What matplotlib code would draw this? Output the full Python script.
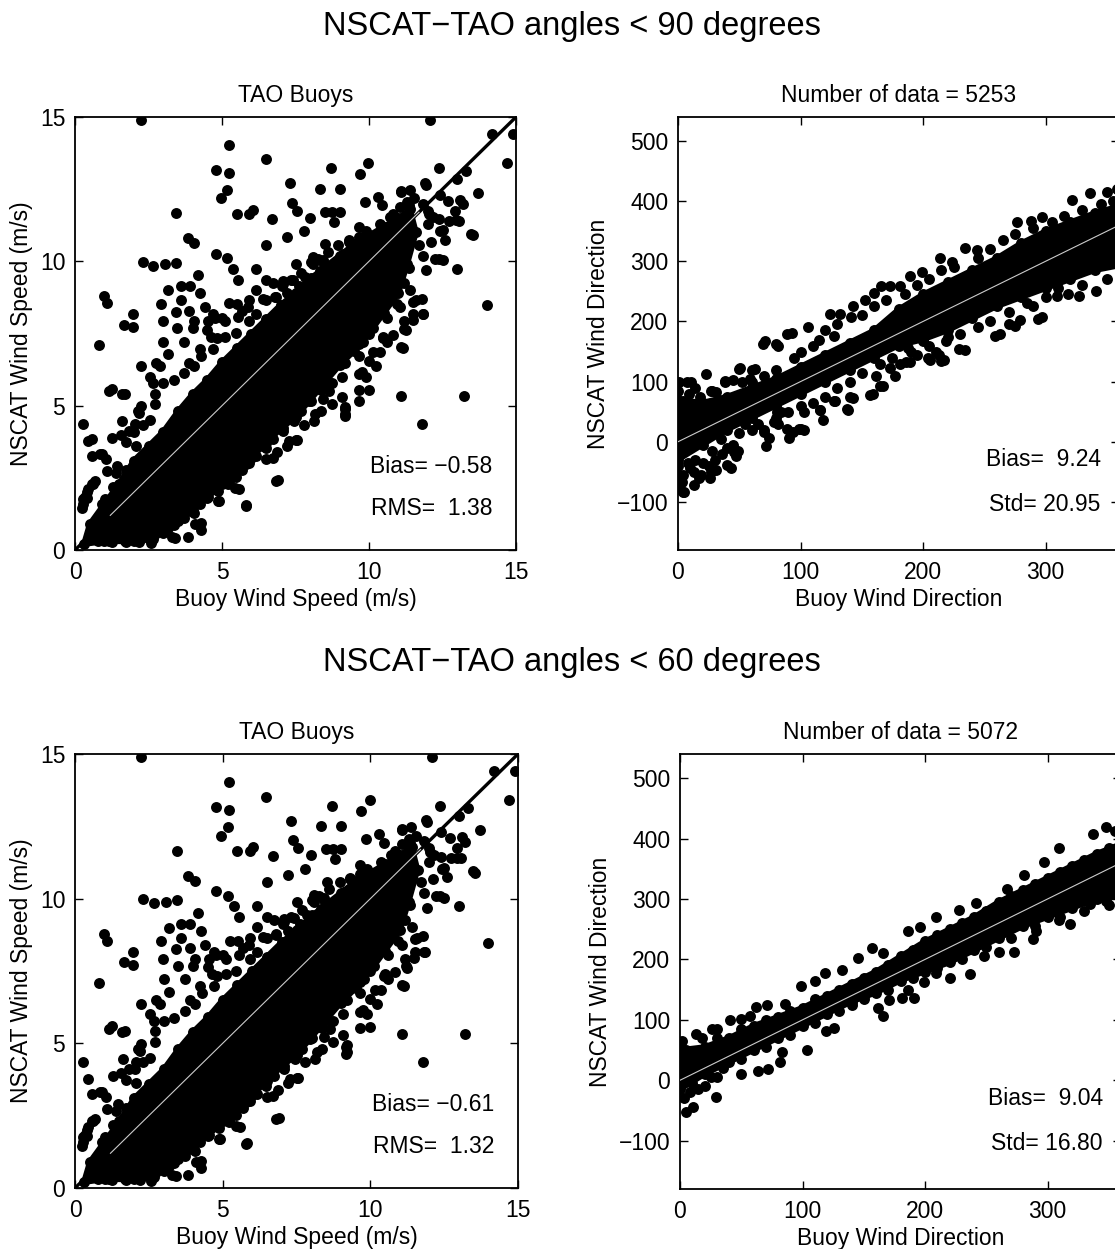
import numpy as np
import matplotlib
matplotlib.use('Agg')
import matplotlib.pyplot as plt

plt.rcParams['font.family'] = ['Liberation Sans', 'DejaVu Sans']
plt.rcParams['font.size'] = 16.5

# ---- data ----
suptitles = ['NSCAT\u2212TAO angles < 90 degrees', 'NSCAT\u2212TAO angles < 60 degrees']
n_data = [5253, 5072]
speed_bias = ['\u22120.58', '\u22120.61']
speed_rms = ['1.38', '1.32']
dir_bias = ['9.24', '9.04']
dir_std = ['20.95', '16.80']

# dense core of the speed scatter (outline, ordered), same in both angle sets
speed_core = [(0.3, 0.2), (0.5, 0.9), (1.0, 1.6), (1.5, 2.3), (2.0, 3.1), (2.5, 3.6), (3.0, 4.1), (3.5, 4.8),
              (4.0, 5.4), (4.5, 5.9), (5.0, 6.5), (5.5, 7.0), (6.0, 7.5), (6.5, 8.0), (7.0, 8.5), (7.5, 8.9),
              (8.0, 9.4), (8.5, 9.8), (9.0, 10.2), (9.5, 10.6), (10.0, 10.9), (10.5, 11.2), (11.0, 11.5),
              (11.4, 11.8), (11.6, 11.0), (11.3, 9.9), (11.0, 8.9), (10.5, 8.2), (10.0, 7.5), (9.5, 6.9),
              (9.0, 6.4), (8.5, 5.8), (8.0, 5.2), (7.5, 4.6), (7.0, 4.2), (6.5, 3.7), (6.0, 3.2), (5.5, 2.8),
              (5.0, 2.3), (4.5, 1.8), (4.0, 1.4), (3.5, 1.0), (3.0, 0.6), (2.5, 0.4), (2.0, 0.3), (1.0, 0.3)]

speed_outliers = [
    (2.25, 14.9), (12.08, 14.9), (14.2, 14.4), (14.9, 14.4), (14.7, 13.4), (5.23, 14.04), (6.48, 13.53),
    (4.78, 13.17), (5.23, 13.05), (9.98, 13.41), (8.7, 13.22), (9.69, 13.02), (12.37, 13.22), (13.3, 13.14),
    (13.0, 12.86), (7.3, 12.7), (8.32, 12.5), (9.02, 12.5), (5.18, 12.46), (4.95, 12.18), (3.45, 11.66),
    (5.5, 11.64), (6.04, 11.78), (5.93, 11.64), (6.69, 11.46), (7.39, 12.02), (7.54, 11.76), (8.0, 11.5),
    (8.5, 11.7), (8.75, 11.7), (9.02, 11.7), (8.82, 11.37), (9.87, 12.06), (10.3, 12.24), (10.45, 11.94),
    (11.08, 12.42), (11.38, 12.48), (11.9, 12.72), (12.4, 12.3), (12.7, 12.1), (13.1, 12.12), (13.7, 12.36),
    (12.93, 11.76), (13.07, 11.4), (12.72, 11.4), (12.43, 11.04), (12.58, 10.74), (13.48, 10.96),
    (12.37, 10.08), (13.0, 9.75), (14.0, 8.47), (11.79, 8.7), (11.5, 8.59), (11.5, 8.17), (11.85, 8.17),
    (11.2, 7.66), (11.08, 7.03), (10.48, 7.39), (10.15, 6.85), (9.99, 5.56), (11.08, 5.32), (13.22, 5.32),
    (11.79, 4.36), (9.76, 6.16), (9.17, 4.87), (9.17, 4.63), (8.44, 5.23), (7.5, 3.8), (6.92, 2.42),
    (5.81, 1.56), (4.9, 1.7), (5.58, 2.12), (5.23, 2.36), (3.83, 0.44), (3.3, 0.44), (4.27, 0.68),
    (4.27, 0.92), (2.57, 0.23), (0.27, 4.36), (0.82, 7.1), (0.97, 8.79), (1.09, 8.55), (1.67, 7.81),
    (1.96, 8.17), (1.98, 7.71), (2.31, 9.99), (2.66, 9.84), (3.07, 9.9), (3.45, 9.94), (3.83, 10.8),
    (4.06, 10.62), (4.78, 10.26), (5.17, 10.1), (5.37, 9.75), (5.55, 9.37), (6.17, 9.75), (6.49, 10.56),
    (7.21, 10.83), (7.5, 9.9), (7.8, 11.04), (8.1, 10.14), (8.44, 9.96), (4.18, 9.51), (3.6, 9.13),
    (3.9, 9.13), (4.25, 8.89), (3.18, 9.0), (2.92, 8.53), (2.99, 7.93), (3.6, 8.65), (3.42, 8.26),
    (4.41, 8.41), (5.25, 8.55), (4.76, 8.05), (5.0, 8.05), (4.5, 7.63), (2.25, 6.37), (2.54, 6.01),
    (2.75, 6.49), (3.18, 6.79), (3.89, 6.49), (1.26, 5.59), (1.7, 5.41), (1.61, 4.46), (2.19, 4.75),
    (2.25, 4.99), (0.58, 3.26), (0.91, 3.32), (0.27, 1.76), (0.58, 2.3), (0.4, 2.0), (1.05, 3.14)]

speed_fringe = [
    (0.91, 1.6), (1.03, 1.76), (1.28, 2.18), (1.38, 2.66), (1.73, 2.78), (1.44, 2.9), (2.08, 3.62),
    (1.73, 3.74), (1.55, 3.98), (2.02, 4.1), (2.31, 4.34), (2.54, 4.51), (2.72, 5.05), (2.72, 5.41),
    (2.66, 5.77), (3.01, 5.77), (3.36, 5.89), (3.71, 6.13), (4.06, 6.37), (4.29, 6.73), (4.7, 6.97),
    (4.82, 7.33), (5.11, 7.39), (5.46, 7.51), (5.93, 7.93), (6.17, 8.17), (6.51, 8.65), (6.8, 8.77),
    (7.04, 9.13), (7.33, 9.37), (7.68, 9.6), (8.03, 9.96), (8.26, 10.08), (8.61, 10.32), (8.96, 10.56),
    (9.31, 10.68), (9.66, 10.86), (9.89, 11.04), (10.36, 11.28), (10.83, 11.64), (11.06, 11.88),
    (11.3, 12.06), (11.53, 12.18), (11.82, 12.0), (12.0, 11.76), (12.17, 11.52), (12.0, 11.28),
    (12.11, 10.68), (11.7, 10.56), (11.82, 10.2), (12.23, 10.08), (11.35, 9.78), (11.18, 9.25),
    (10.83, 8.89), (10.95, 8.53), (10.6, 8.05), (10.13, 7.69), (9.78, 7.21), (9.66, 6.73), (9.2, 6.49),
    (9.08, 6.01), (8.73, 5.77), (8.38, 5.53), (8.03, 5.17), (7.68, 4.81), (7.44, 4.46), (7.09, 4.22),
    (6.74, 3.86), (6.39, 3.62), (6.16, 3.26), (5.93, 3.02), (5.69, 2.78), (5.46, 2.54), (5.11, 2.36),
    (4.88, 2.06), (4.53, 1.82), (4.24, 1.58), (4.06, 1.28), (3.71, 1.1), (3.36, 0.86), (3.01, 0.62),
    (2.66, 0.38), (2.19, 0.26), (1.73, 0.26), (1.26, 0.26), (0.79, 0.32), (2.89, 6.37), (3.01, 7.21),
    (3.48, 7.69), (3.71, 7.21), (4.0, 7.69), (3.89, 8.29), (4.06, 7.93), (4.24, 6.97), (4.53, 7.93),
    (4.7, 8.17), (4.64, 7.39), (5.11, 7.93), (5.52, 8.53), (5.69, 8.29), (5.93, 8.65), (6.16, 9.01),
    (6.51, 9.37), (6.74, 9.25), (7.09, 9.31), (7.21, 8.89), (7.62, 9.13), (8.03, 9.43), (8.32, 9.66),
    (8.61, 9.84), (9.02, 9.66), (9.19, 10.08), (9.43, 10.32), (10.13, 10.68), (10.36, 10.92),
    (10.71, 11.04), (10.95, 11.4), (10.71, 11.52), (0.33, 1.82), (0.44, 2.12), (0.62, 2.3), (0.27, 1.58),
    (0.58, 0.62), (0.97, 0.74), (1.03, 1.1), (1.38, 0.74), (1.49, 0.98), (1.73, 0.62), (6.51, 3.14),
    (6.86, 3.38), (7.21, 3.62), (7.56, 3.8), (7.79, 4.34), (8.14, 4.46), (8.38, 4.81), (8.73, 5.05),
    (9.08, 5.29), (9.66, 5.53), (9.89, 6.01), (10.24, 6.37), (10.36, 6.85), (10.6, 7.21), (10.83, 7.45),
    (11.18, 7.93), (11.06, 8.41), (11.41, 9.01), (1.14, 5.5), (1.6, 5.4), (2.15, 4.81), (2.05, 4.36),
    (1.82, 4.12), (1.27, 3.88), (0.85, 3.32), (0.44, 3.77), (1.09, 2.73), (0.68, 2.39), (0.41, 1.8),
    (0.24, 1.45), (1.02, 1.59), (1.36, 1.59), (1.77, 0.76), (2.56, 0.73), (3.41, 0.42), (4.09, 0.9),
    (4.88, 1.7), (5.8, 1.52), (5.45, 2.15), (5.22, 2.28), (6.82, 2.39), (5.8, 2.98), (6.72, 3.18),
    (7.27, 3.77), (8.18, 4.7), (9.2, 4.7), (9.2, 4.94), (9.65, 6.09), (8.42, 5.92), (8.63, 5.5),
    (7.95, 5.16), (7.5, 4.81), (7.06, 4.12), (6.38, 3.88), (6.48, 3.53), (5.9, 3.32), (5.45, 2.84),
    (4.88, 2.49), (4.53, 2.15), (4.09, 1.8), (3.85, 1.35), (3.51, 1.11), (3.17, 0.76), (2.73, 0.55),
    (2.28, 0.42), (1.7, 0.31), (1.14, 0.31), (0.68, 0.42), (9.65, 7.13), (9.99, 6.54), (10.47, 7.34),
    (11.15, 6.99), (11.08, 12.39), (11.93, 12.66), (11.35, 11.94), (12.03, 11.63), (12.38, 11.45),
    (12.5, 11.07), (12.95, 11.42), (13.19, 11.97), (13.53, 10.9), (12.5, 10.03), (11.93, 9.69),
    (11.59, 8.65), (11.83, 8.17), (11.49, 7.96), (11.25, 7.61), (10.91, 9.0), (10.81, 9.69), (9.31, 10.73),
    (9.65, 11.18), (9.1, 10.24), (8.52, 10.59), (8.08, 9.9), (8.42, 10.03), (7.4, 9.34), (7.84, 9.45),
    (7.06, 9.2), (6.82, 8.75), (6.38, 8.69), (5.9, 8.41), (5.56, 8.06)]

# points present only in the < 90 degrees set
speed90_extra = [(0.58, 3.86), (9.66, 5.17)]

dir90_core = [(0, 70), (20, 65), (40, 75), (60, 90), (80, 105), (100, 125), (120, 145), (140, 165), (160, 185),
              (180, 220), (200, 245), (220, 265), (240, 285), (260, 305), (280, 330), (300, 350), (320, 365),
              (340, 380), (365, 395), (365, 295), (340, 285), (320, 270), (300, 255), (280, 240), (260, 225),
              (240, 205), (220, 185), (200, 170), (180, 160), (160, 140), (140, 120), (120, 100), (100, 80),
              (80, 60), (60, 40), (40, 20), (20, -5), (0, -30)]

dir90_pts = [
    (0, -40), (0, -55), (2, -65), (1, -78), (4, -84), (3, -67), (4, -55), (10, -44), (13, -50), (17, -61),
    (19, -55), (26, -61), (31, -47), (43, -44), (47, -24), (49, -15), (8, -35), (14, -30), (20, -35),
    (25, -40), (30, -30), (36, -20), (40, -10), (45, -5), (28, -15), (5, -10), (0, 85), (1, 99), (7, 99),
    (11, 99), (4, 67), (9, 80), (14, 90), (18, 75), (23, 113), (28, 85), (31, 82), (38, 99), (45, 102),
    (52, 99), (51, 123), (60, 119), (63, 121), (71, 167), (82, 159), (89, 180), (93, 181), (106, 190),
    (124, 213), (132, 213), (141, 207), (143, 225), (127, 176), (153, 236), (160, 247), (166, 259),
    (173, 259), (181, 259), (189, 276), (199, 283), (214, 305), (224, 299), (234, 322), (244, 319),
    (277, 365), (288, 367), (297, 373), (322, 402), (336, 413), (350, 415), (358, 420), (60, 100),
    (70, 110), (80, 120), (95, 140), (100, 150), (110, 160), (115, 170), (120, 185), (130, 195),
    (150, 210), (160, 225), (170, 235), (185, 245), (195, 260), (205, 270), (215, 285), (225, 290),
    (245, 305), (255, 320), (265, 335), (275, 345), (290, 355), (305, 365), (315, 375), (330, 385),
    (345, 395), (355, 400), (341, 250), (327, 242), (318, 245), (309, 242), (297, 207), (290, 225),
    (279, 202), (263, 179), (270, 195), (234, 153), (219, 167), (217, 136), (213, 145), (206, 136),
    (189, 133), (195, 145), (200, 167), (188, 156), (181, 130), (177, 110), (173, 122), (167, 93),
    (159, 79), (143, 73), (139, 53), (128, 67), (118, 36), (116, 53), (103, 50), (99, 22), (103, 19),
    (91, 7), (94, 16), (84, 50), (82, 30), (72, -7), (74, 7), (70, 19), (60, 20), (55, 30), (350, 270),
    (330, 260), (310, 255), (300, 240), (285, 230), (270, 215), (255, 200), (245, 190), (230, 180),
    (220, 175), (205, 160), (190, 150), (175, 140), (165, 130), (150, 115), (140, 100), (130, 90),
    (120, 75), (110, 65), (100, 60), (90, 50), (80, 40), (65, 30), (50, 15), (35, 5), (27, 85), (38, 101),
    (59, 104), (50, 121), (69, 162), (80, 162), (81, 49), (116, 52), (127, 68), (140, 74), (138, 55),
    (157, 77), (165, 93), (162, 110), (186, 132), (204, 140), (215, 135), (211, 149), (229, 154),
    (259, 176), (275, 193), (294, 204), (100, 22), (89, 22), (78, 33), (70, 16), (46, -17), (40, -39),
    (27, -50), (13, -72), (5, -83)]

dir60_core = [(0, 50), (20, 55), (40, 70), (60, 90), (80, 105), (100, 120), (120, 140), (140, 160), (160, 180),
              (180, 205), (200, 230), (220, 250), (240, 270), (260, 295), (280, 315), (300, 335), (320, 355),
              (340, 375), (365, 395), (365, 305), (340, 300), (320, 285), (300, 270), (280, 255), (260, 235),
              (240, 215), (220, 195), (200, 180), (180, 165), (160, 145), (140, 130), (120, 110), (100, 90),
              (80, 70), (60, 50), (40, 30), (20, 10), (0, -15)]

dir60_pts = [
    (2, 65), (0, 60), (5, 50), (13, 76), (18, 70), (26, 85), (30, 85), (41, 99), (50, 102), (57, 106),
    (62, 122), (71, 125), (86, 126), (99, 156), (110, 165), (118, 178), (132, 183), (145, 202), (157, 219),
    (166, 210), (186, 247), (196, 253), (209, 270), (228, 282), (242, 293), (267, 316), (281, 339),
    (297, 362), (309, 385), (337, 407), (348, 419), (355, 412), (30, 70), (50, 85), (70, 100), (90, 115),
    (110, 135), (130, 150), (150, 170), (170, 190), (190, 215), (210, 240), (230, 260), (250, 280),
    (270, 305), (290, 325), (310, 345), (330, 365), (350, 385), (348, 296), (335, 292), (318, 259),
    (309, 265), (291, 247), (288, 233), (273, 213), (260, 213), (248, 205), (237, 176), (220, 170),
    (209, 178), (199, 162), (191, 136), (186, 150), (181, 136), (171, 133), (166, 107), (162, 120),
    (150, 139), (140, 125), (126, 87), (119, 82), (104, 50), (83, 47), (82, 30), (72, 19), (64, 16),
    (50, 10), (30, 5), (29, -27), (11, -44), (5, -53), (3, -30), (0, -10), (8, -20), (15, -15), (20, -10),
    (350, 290), (330, 280), (310, 270), (290, 255), (270, 235), (250, 220), (230, 200), (210, 185),
    (190, 170), (170, 150), (150, 135), (130, 115), (110, 95), (90, 75), (70, 55), (50, 35), (35, 20),
    (25, 5), (10, -5)]

W, H = 1115, 1249
MS = 62  # marker area


def box_axes(ax):
    ax.tick_params(direction='in', top=True, right=True, length=6, width=1, labelsize=16.5)
    ax.tick_params(axis='x', pad=8)
    ax.tick_params(axis='y', pad=7)
    for s in ax.spines.values():
        s.set_linewidth(1.3)


def draw_cloud(ax, core, pts):
    cx, cy = np.array(core).T
    ax.fill(cx, cy, color='k', lw=4, zorder=2)
    ax.scatter(cx, cy, s=MS, c='k', lw=0, zorder=2)
    px, py = np.array(pts).T
    ax.scatter(px, py, s=MS, c='k', lw=0, zorder=2)


def speed_panel(rect, pts, bias, rms):
    ax = fig.add_axes(rect)
    ax.plot([0, 15], [0, 15], 'k-', lw=2.4, zorder=1)
    draw_cloud(ax, speed_core, pts)
    ax.plot([1.2, 11.7], [1.2, 11.7], color='0.8', lw=0.8, zorder=3)
    ax.set_xlim(0, 15)
    ax.set_ylim(0, 15)
    ax.set_xticks([0, 5, 10, 15])
    ax.set_yticks([0, 5, 10, 15])
    ax.set_title('TAO Buoys', fontsize=16.5, pad=11)
    ax.set_xlabel('Buoy Wind Speed (m/s)', fontsize=16.5, labelpad=3)
    ax.set_ylabel('NSCAT Wind Speed (m/s)', fontsize=16.5, labelpad=5)
    ax.text(14.2, 2.9, 'Bias= ' + bias, ha='right', va='center', fontsize=16.5)
    ax.text(14.2, 1.45, 'RMS=  ' + rms, ha='right', va='center', fontsize=16.5)
    box_axes(ax)
    return ax


def dir_panel(rect, core, pts, n, bias, std):
    ax = fig.add_axes(rect)
    draw_cloud(ax, core, pts)
    ax.plot([0, 360], [0, 360], color='0.8', lw=0.8, zorder=3)
    ax.set_xlim(0, 360)
    ax.set_ylim(-180, 540)
    ax.set_xticks([0, 100, 200, 300])
    ax.set_yticks([-100, 0, 100, 200, 300, 400, 500])
    ax.set_title('Number of data = %d' % n, fontsize=16.5, pad=11)
    ax.set_xlabel('Buoy Wind Direction', fontsize=16.5, labelpad=3)
    ax.set_ylabel('NSCAT Wind Direction', fontsize=16.5, labelpad=5)
    ax.text(345, -30, 'Bias=  ' + bias, ha='right', va='center', fontsize=16.5)
    ax.text(345, -105, 'Std= ' + std, ha='right', va='center', fontsize=16.5)
    box_axes(ax)
    return ax


fig = plt.figure(figsize=(W / 100, H / 100), dpi=100)

speed60 = speed_outliers + speed_fringe
speed90 = speed60 + speed90_extra

speed_panel([75 / W, (H - 550) / H, 441 / W, 433 / H], speed90, speed_bias[0], speed_rms[0])
dir_panel([678 / W, (H - 550) / H, 441 / W, 433 / H], dir90_core, dir90_pts, n_data[0], dir_bias[0], dir_std[0])
speed_panel([75 / W, (H - 1188) / H, 443 / W, 434 / H], speed60, speed_bias[1], speed_rms[1])
dir_panel([680 / W, (H - 1189) / H, 441 / W, 435 / H], dir60_core, dir60_pts, n_data[1], dir_bias[1], dir_std[1])

fig.text(572 / W, 1 - 27 / H, suptitles[0], ha='center', va='center', fontsize=23.5)
fig.text(572 / W, 1 - 662 / H, suptitles[1], ha='center', va='center', fontsize=23.5)

fig.savefig('out.png', dpi=100)
